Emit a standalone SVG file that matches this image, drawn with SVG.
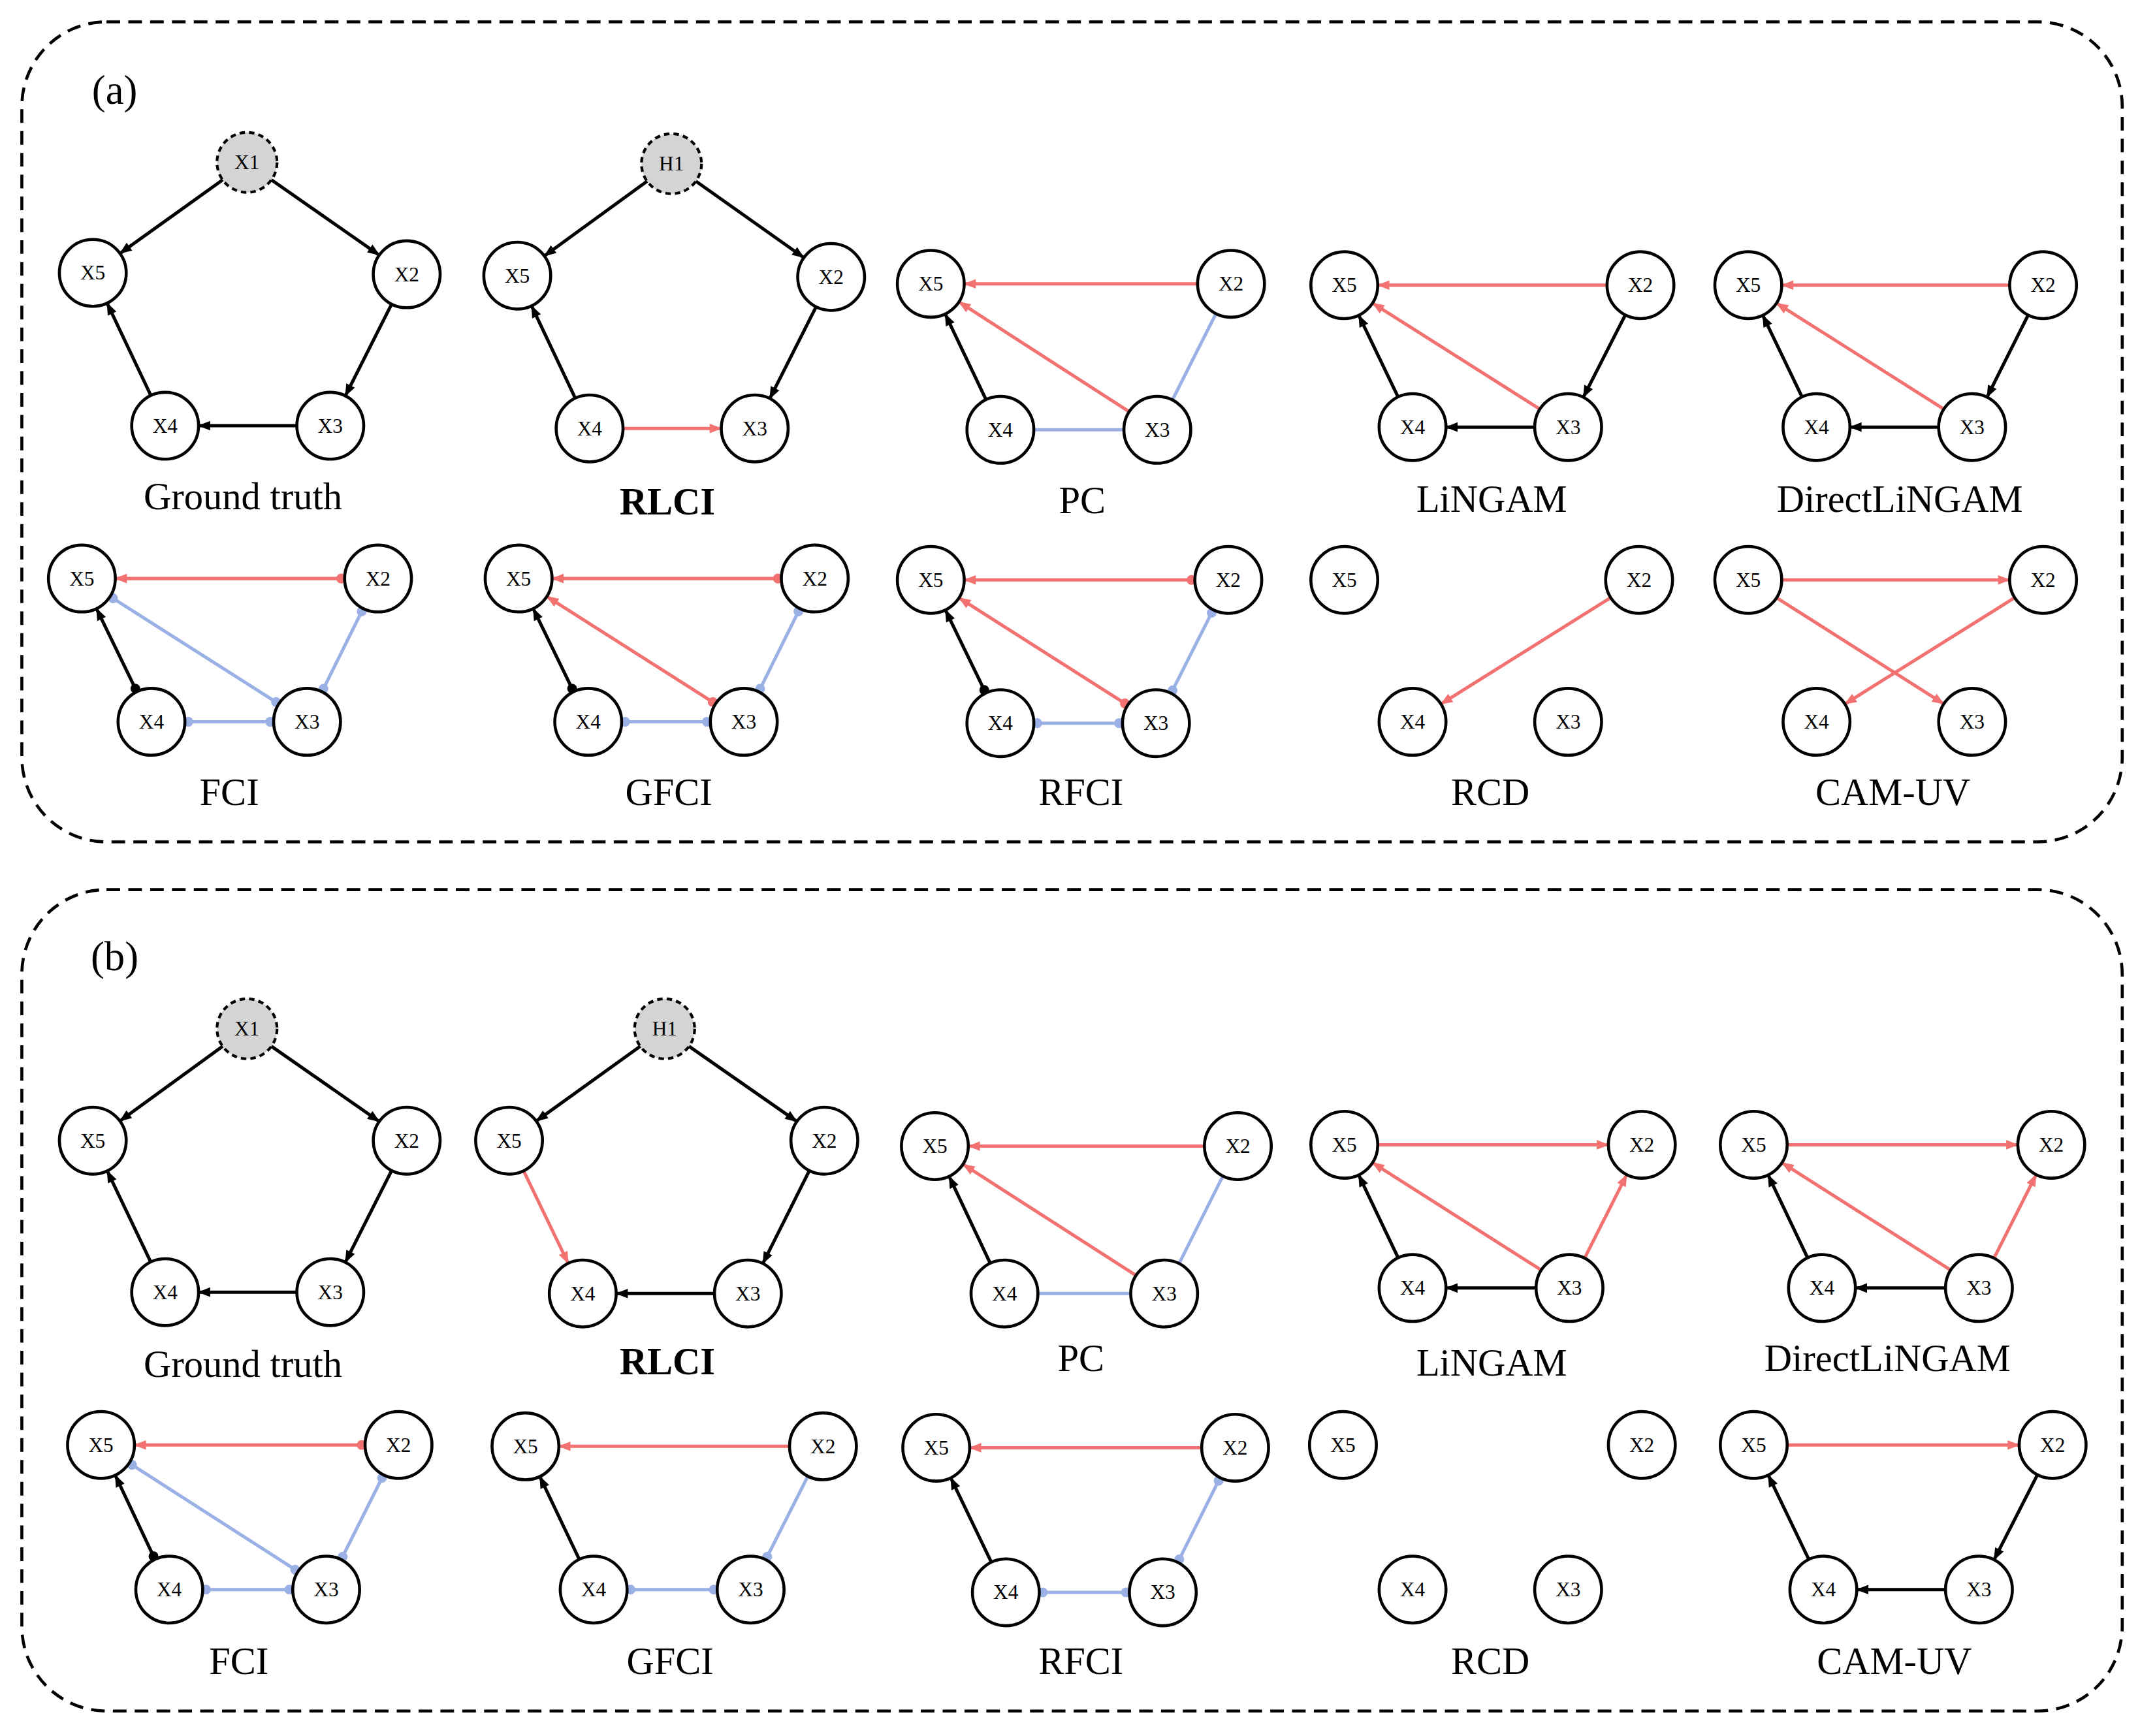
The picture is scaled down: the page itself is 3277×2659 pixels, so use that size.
<svg xmlns="http://www.w3.org/2000/svg" width="3277" height="2659" viewBox="0 0 3277 2659">
<style>
.n{fill:#fff;stroke:#000;stroke-width:2.2}
.h{fill:#d4d4d4;stroke:#000;stroke-width:2;stroke-dasharray:4,3}
.t{font-family:"Liberation Serif",serif;font-size:15px;text-anchor:middle;dominant-baseline:central;fill:#000}
.L{font-family:"Liberation Serif",serif;font-size:28px;text-anchor:middle;fill:#000}
.k{stroke:#000;stroke-width:2.4;fill:none}
.r{stroke:#f27171;stroke-width:2.4;fill:none}
.b{stroke:#9bb1e6;stroke-width:2.4;fill:none}
.box{fill:none;stroke:#000;stroke-width:2.2;stroke-dasharray:10,6}
</style>
<defs>
<marker id="ak" markerUnits="userSpaceOnUse" markerWidth="9" markerHeight="7" refX="33" refY="3.5" orient="auto" overflow="visible"><path d="M0,0L9,3.5L0,7z" fill="#000"/></marker>
<marker id="ar" markerUnits="userSpaceOnUse" markerWidth="9" markerHeight="7" refX="33" refY="3.5" orient="auto" overflow="visible"><path d="M0,0L9,3.5L0,7z" fill="#f27171"/></marker>
<marker id="sk" markerUnits="userSpaceOnUse" markerWidth="8" markerHeight="8" refX="-27" refY="0" orient="auto" overflow="visible"><circle r="3.6" fill="#000"/></marker>
<marker id="sr" markerUnits="userSpaceOnUse" markerWidth="8" markerHeight="8" refX="-27" refY="0" orient="auto" overflow="visible"><circle r="3.6" fill="#f27171"/></marker>
<marker id="sb" markerUnits="userSpaceOnUse" markerWidth="8" markerHeight="8" refX="-27" refY="0" orient="auto" overflow="visible"><circle r="3.6" fill="#9bb1e6"/></marker>
<marker id="eb" markerUnits="userSpaceOnUse" markerWidth="8" markerHeight="8" refX="27" refY="0" orient="auto" overflow="visible"><circle r="3.6" fill="#9bb1e6"/></marker>
</defs>
<g transform="scale(2.0899)">
<rect class="box" x="16" y="16" width="1539" height="601" rx="62"/>
<rect class="box" x="16" y="652" width="1539" height="602" rx="62"/>
<text x="84" y="76" font-family="Liberation Serif,serif" font-size="30" text-anchor="middle">(a)</text>
<text x="84" y="711" font-family="Liberation Serif,serif" font-size="30" text-anchor="middle">(b)</text>
<g id="connectors">
<path class="k" d="M165,130.5L68,200" marker-end="url(#ak)"/>
<path class="k" d="M197,130.5L298,201" marker-end="url(#ak)"/>
<path class="k" d="M298,201L242,312" marker-end="url(#ak)"/>
<path class="k" d="M242,312L121,312" marker-end="url(#ak)"/>
<path class="k" d="M121,312L68,200" marker-end="url(#ak)"/>
<path class="k" d="M476,131.5L379,202" marker-end="url(#ak)"/>
<path class="k" d="M508,131.5L609,203" marker-end="url(#ak)"/>
<path class="k" d="M609,203L553,314" marker-end="url(#ak)"/>
<path class="k" d="M432,314L379,202" marker-end="url(#ak)"/>
<path class="r" d="M432,314L553,314" marker-end="url(#ar)"/>
<path class="r" d="M902,208L682,208" marker-end="url(#ar)"/>
<path class="r" d="M848,315L682,208" marker-end="url(#ar)"/>
<path class="k" d="M733,315L682,208" marker-end="url(#ak)"/>
<path class="b" d="M733,315L848,315"/>
<path class="b" d="M848,315L902,208"/>
<path class="r" d="M1202,209L985,209" marker-end="url(#ar)"/>
<path class="r" d="M1149,313L985,209" marker-end="url(#ar)"/>
<path class="k" d="M1035,313L985,209" marker-end="url(#ak)"/>
<path class="k" d="M1149,313L1035,313" marker-end="url(#ak)"/>
<path class="k" d="M1202,209L1149,313" marker-end="url(#ak)"/>
<path class="r" d="M1497,209L1281,209" marker-end="url(#ar)"/>
<path class="r" d="M1445,313L1281,209" marker-end="url(#ar)"/>
<path class="k" d="M1331,313L1281,209" marker-end="url(#ak)"/>
<path class="k" d="M1445,313L1331,313" marker-end="url(#ak)"/>
<path class="k" d="M1497,209L1445,313" marker-end="url(#ak)"/>
<path class="r" d="M277,424L60,424" marker-start="url(#sr)" marker-end="url(#ar)"/>
<path class="b" d="M60,424L225,529" marker-start="url(#sb)" marker-end="url(#eb)"/>
<path class="k" d="M111,529L60,424" marker-start="url(#sk)" marker-end="url(#ak)"/>
<path class="b" d="M111,529L225,529" marker-start="url(#sb)" marker-end="url(#eb)"/>
<path class="b" d="M225,529L277,424" marker-start="url(#sb)" marker-end="url(#eb)"/>
<path class="r" d="M597,424L380,424" marker-start="url(#sr)" marker-end="url(#ar)"/>
<path class="r" d="M545,529L380,424" marker-start="url(#sr)" marker-end="url(#ar)"/>
<path class="k" d="M431,529L380,424" marker-start="url(#sk)" marker-end="url(#ak)"/>
<path class="b" d="M431,529L545,529" marker-start="url(#sb)" marker-end="url(#eb)"/>
<path class="b" d="M545,529L597,424" marker-start="url(#sb)" marker-end="url(#eb)"/>
<path class="r" d="M900,425L682,425" marker-start="url(#sr)" marker-end="url(#ar)"/>
<path class="r" d="M847,530L682,425" marker-start="url(#sr)" marker-end="url(#ar)"/>
<path class="k" d="M733,530L682,425" marker-start="url(#sk)" marker-end="url(#ak)"/>
<path class="b" d="M733,530L847,530" marker-start="url(#sb)" marker-end="url(#eb)"/>
<path class="b" d="M847,530L900,425" marker-start="url(#sb)" marker-end="url(#eb)"/>
<path class="r" d="M1201,425L1035,529" marker-end="url(#ar)"/>
<path class="r" d="M1281,425L1497,425" marker-end="url(#ar)"/>
<path class="r" d="M1281,425L1445,529" marker-end="url(#ar)"/>
<path class="r" d="M1497,425L1331,529" marker-end="url(#ar)"/>
<path class="k" d="M165,765.5L68,836" marker-end="url(#ak)"/>
<path class="k" d="M197,765.5L298,836" marker-end="url(#ak)"/>
<path class="k" d="M298,836L242,947" marker-end="url(#ak)"/>
<path class="k" d="M242,947L121,947" marker-end="url(#ak)"/>
<path class="k" d="M121,947L68,836" marker-end="url(#ak)"/>
<path class="k" d="M471,765.5L373,836" marker-end="url(#ak)"/>
<path class="k" d="M503,765.5L604,836" marker-end="url(#ak)"/>
<path class="k" d="M604,836L548,948" marker-end="url(#ak)"/>
<path class="k" d="M548,948L427,948" marker-end="url(#ak)"/>
<path class="r" d="M373,836L427,948" marker-end="url(#ar)"/>
<path class="r" d="M907,840L685,840" marker-end="url(#ar)"/>
<path class="r" d="M853,948L685,840" marker-end="url(#ar)"/>
<path class="k" d="M736,948L685,840" marker-end="url(#ak)"/>
<path class="b" d="M736,948L853,948"/>
<path class="b" d="M853,948L907,840"/>
<path class="r" d="M985,839L1203,839" marker-end="url(#ar)"/>
<path class="r" d="M1150,944L985,839" marker-end="url(#ar)"/>
<path class="k" d="M1035,944L985,839" marker-end="url(#ak)"/>
<path class="k" d="M1150,944L1035,944" marker-end="url(#ak)"/>
<path class="r" d="M1150,944L1203,839" marker-end="url(#ar)"/>
<path class="r" d="M1285,839L1503,839" marker-end="url(#ar)"/>
<path class="r" d="M1450,944L1285,839" marker-end="url(#ar)"/>
<path class="k" d="M1335,944L1285,839" marker-end="url(#ak)"/>
<path class="k" d="M1450,944L1335,944" marker-end="url(#ak)"/>
<path class="r" d="M1450,944L1503,839" marker-end="url(#ar)"/>
<path class="r" d="M292,1059L74,1059" marker-start="url(#sr)" marker-end="url(#ar)"/>
<path class="b" d="M74,1059L239,1165" marker-start="url(#sb)" marker-end="url(#eb)"/>
<path class="k" d="M124,1165L74,1059" marker-start="url(#sk)" marker-end="url(#ak)"/>
<path class="b" d="M124,1165L239,1165" marker-start="url(#sb)" marker-end="url(#eb)"/>
<path class="b" d="M239,1165L292,1059" marker-start="url(#sb)" marker-end="url(#eb)"/>
<path class="r" d="M603,1060L385,1060" marker-end="url(#ar)"/>
<path class="k" d="M435,1165L385,1060" marker-end="url(#ak)"/>
<path class="b" d="M435,1165L550,1165" marker-start="url(#sb)" marker-end="url(#eb)"/>
<path class="b" d="M550,1165L603,1060" marker-start="url(#sb)"/>
<path class="r" d="M905,1061L686,1061" marker-end="url(#ar)"/>
<path class="k" d="M737,1167L686,1061" marker-end="url(#ak)"/>
<path class="b" d="M737,1167L852,1167" marker-start="url(#sb)" marker-end="url(#eb)"/>
<path class="b" d="M852,1167L905,1061" marker-start="url(#sb)" marker-end="url(#eb)"/>
<path class="r" d="M1285,1059L1504,1059" marker-end="url(#ar)"/>
<path class="k" d="M1504,1059L1450,1165" marker-end="url(#ak)"/>
<path class="k" d="M1450,1165L1336,1165" marker-end="url(#ak)"/>
<path class="k" d="M1336,1165L1285,1059" marker-end="url(#ak)"/>
</g>
<g id="nodes">
<g id="a-gt-X1"><circle class="h" cx="181" cy="119" r="22"/><text class="t" x="181" y="119">X1</text></g>
<g id="a-gt-X5"><circle class="n" cx="68" cy="200" r="24.5"/><text class="t" x="68" y="200">X5</text></g>
<g id="a-gt-X2"><circle class="n" cx="298" cy="201" r="24.5"/><text class="t" x="298" y="201">X2</text></g>
<g id="a-gt-X4"><circle class="n" cx="121" cy="312" r="24.5"/><text class="t" x="121" y="312">X4</text></g>
<g id="a-gt-X3"><circle class="n" cx="242" cy="312" r="24.5"/><text class="t" x="242" y="312">X3</text></g>
<g id="a-rl-H1"><circle class="h" cx="492" cy="120" r="22"/><text class="t" x="492" y="120">H1</text></g>
<g id="a-rl-X5"><circle class="n" cx="379" cy="202" r="24.5"/><text class="t" x="379" y="202">X5</text></g>
<g id="a-rl-X2"><circle class="n" cx="609" cy="203" r="24.5"/><text class="t" x="609" y="203">X2</text></g>
<g id="a-rl-X4"><circle class="n" cx="432" cy="314" r="24.5"/><text class="t" x="432" y="314">X4</text></g>
<g id="a-rl-X3"><circle class="n" cx="553" cy="314" r="24.5"/><text class="t" x="553" y="314">X3</text></g>
<g id="a-pc-X5"><circle class="n" cx="682" cy="208" r="24.5"/><text class="t" x="682" y="208">X5</text></g>
<g id="a-pc-X2"><circle class="n" cx="902" cy="208" r="24.5"/><text class="t" x="902" y="208">X2</text></g>
<g id="a-pc-X4"><circle class="n" cx="733" cy="315" r="24.5"/><text class="t" x="733" y="315">X4</text></g>
<g id="a-pc-X3"><circle class="n" cx="848" cy="315" r="24.5"/><text class="t" x="848" y="315">X3</text></g>
<g id="a-li-X5"><circle class="n" cx="985" cy="209" r="24.5"/><text class="t" x="985" y="209">X5</text></g>
<g id="a-li-X2"><circle class="n" cx="1202" cy="209" r="24.5"/><text class="t" x="1202" y="209">X2</text></g>
<g id="a-li-X4"><circle class="n" cx="1035" cy="313" r="24.5"/><text class="t" x="1035" y="313">X4</text></g>
<g id="a-li-X3"><circle class="n" cx="1149" cy="313" r="24.5"/><text class="t" x="1149" y="313">X3</text></g>
<g id="a-dl-X5"><circle class="n" cx="1281" cy="209" r="24.5"/><text class="t" x="1281" y="209">X5</text></g>
<g id="a-dl-X2"><circle class="n" cx="1497" cy="209" r="24.5"/><text class="t" x="1497" y="209">X2</text></g>
<g id="a-dl-X4"><circle class="n" cx="1331" cy="313" r="24.5"/><text class="t" x="1331" y="313">X4</text></g>
<g id="a-dl-X3"><circle class="n" cx="1445" cy="313" r="24.5"/><text class="t" x="1445" y="313">X3</text></g>
<g id="a-fci-X5"><circle class="n" cx="60" cy="424" r="24.5"/><text class="t" x="60" y="424">X5</text></g>
<g id="a-fci-X2"><circle class="n" cx="277" cy="424" r="24.5"/><text class="t" x="277" y="424">X2</text></g>
<g id="a-fci-X4"><circle class="n" cx="111" cy="529" r="24.5"/><text class="t" x="111" y="529">X4</text></g>
<g id="a-fci-X3"><circle class="n" cx="225" cy="529" r="24.5"/><text class="t" x="225" y="529">X3</text></g>
<g id="a-gf-X5"><circle class="n" cx="380" cy="424" r="24.5"/><text class="t" x="380" y="424">X5</text></g>
<g id="a-gf-X2"><circle class="n" cx="597" cy="424" r="24.5"/><text class="t" x="597" y="424">X2</text></g>
<g id="a-gf-X4"><circle class="n" cx="431" cy="529" r="24.5"/><text class="t" x="431" y="529">X4</text></g>
<g id="a-gf-X3"><circle class="n" cx="545" cy="529" r="24.5"/><text class="t" x="545" y="529">X3</text></g>
<g id="a-rf-X5"><circle class="n" cx="682" cy="425" r="24.5"/><text class="t" x="682" y="425">X5</text></g>
<g id="a-rf-X2"><circle class="n" cx="900" cy="425" r="24.5"/><text class="t" x="900" y="425">X2</text></g>
<g id="a-rf-X4"><circle class="n" cx="733" cy="530" r="24.5"/><text class="t" x="733" y="530">X4</text></g>
<g id="a-rf-X3"><circle class="n" cx="847" cy="530" r="24.5"/><text class="t" x="847" y="530">X3</text></g>
<g id="a-rcd-X5"><circle class="n" cx="985" cy="425" r="24.5"/><text class="t" x="985" y="425">X5</text></g>
<g id="a-rcd-X2"><circle class="n" cx="1201" cy="425" r="24.5"/><text class="t" x="1201" y="425">X2</text></g>
<g id="a-rcd-X4"><circle class="n" cx="1035" cy="529" r="24.5"/><text class="t" x="1035" y="529">X4</text></g>
<g id="a-rcd-X3"><circle class="n" cx="1149" cy="529" r="24.5"/><text class="t" x="1149" y="529">X3</text></g>
<g id="a-cam-X5"><circle class="n" cx="1281" cy="425" r="24.5"/><text class="t" x="1281" y="425">X5</text></g>
<g id="a-cam-X2"><circle class="n" cx="1497" cy="425" r="24.5"/><text class="t" x="1497" y="425">X2</text></g>
<g id="a-cam-X4"><circle class="n" cx="1331" cy="529" r="24.5"/><text class="t" x="1331" y="529">X4</text></g>
<g id="a-cam-X3"><circle class="n" cx="1445" cy="529" r="24.5"/><text class="t" x="1445" y="529">X3</text></g>
<g id="b-gt-X1"><circle class="h" cx="181" cy="754" r="22"/><text class="t" x="181" y="754">X1</text></g>
<g id="b-gt-X5"><circle class="n" cx="68" cy="836" r="24.5"/><text class="t" x="68" y="836">X5</text></g>
<g id="b-gt-X2"><circle class="n" cx="298" cy="836" r="24.5"/><text class="t" x="298" y="836">X2</text></g>
<g id="b-gt-X4"><circle class="n" cx="121" cy="947" r="24.5"/><text class="t" x="121" y="947">X4</text></g>
<g id="b-gt-X3"><circle class="n" cx="242" cy="947" r="24.5"/><text class="t" x="242" y="947">X3</text></g>
<g id="b-rl-H1"><circle class="h" cx="487" cy="754" r="22"/><text class="t" x="487" y="754">H1</text></g>
<g id="b-rl-X5"><circle class="n" cx="373" cy="836" r="24.5"/><text class="t" x="373" y="836">X5</text></g>
<g id="b-rl-X2"><circle class="n" cx="604" cy="836" r="24.5"/><text class="t" x="604" y="836">X2</text></g>
<g id="b-rl-X4"><circle class="n" cx="427" cy="948" r="24.5"/><text class="t" x="427" y="948">X4</text></g>
<g id="b-rl-X3"><circle class="n" cx="548" cy="948" r="24.5"/><text class="t" x="548" y="948">X3</text></g>
<g id="b-pc-X5"><circle class="n" cx="685" cy="840" r="24.5"/><text class="t" x="685" y="840">X5</text></g>
<g id="b-pc-X2"><circle class="n" cx="907" cy="840" r="24.5"/><text class="t" x="907" y="840">X2</text></g>
<g id="b-pc-X4"><circle class="n" cx="736" cy="948" r="24.5"/><text class="t" x="736" y="948">X4</text></g>
<g id="b-pc-X3"><circle class="n" cx="853" cy="948" r="24.5"/><text class="t" x="853" y="948">X3</text></g>
<g id="b-li-X5"><circle class="n" cx="985" cy="839" r="24.5"/><text class="t" x="985" y="839">X5</text></g>
<g id="b-li-X2"><circle class="n" cx="1203" cy="839" r="24.5"/><text class="t" x="1203" y="839">X2</text></g>
<g id="b-li-X4"><circle class="n" cx="1035" cy="944" r="24.5"/><text class="t" x="1035" y="944">X4</text></g>
<g id="b-li-X3"><circle class="n" cx="1150" cy="944" r="24.5"/><text class="t" x="1150" y="944">X3</text></g>
<g id="b-dl-X5"><circle class="n" cx="1285" cy="839" r="24.5"/><text class="t" x="1285" y="839">X5</text></g>
<g id="b-dl-X2"><circle class="n" cx="1503" cy="839" r="24.5"/><text class="t" x="1503" y="839">X2</text></g>
<g id="b-dl-X4"><circle class="n" cx="1335" cy="944" r="24.5"/><text class="t" x="1335" y="944">X4</text></g>
<g id="b-dl-X3"><circle class="n" cx="1450" cy="944" r="24.5"/><text class="t" x="1450" y="944">X3</text></g>
<g id="b-fci-X5"><circle class="n" cx="74" cy="1059" r="24.5"/><text class="t" x="74" y="1059">X5</text></g>
<g id="b-fci-X2"><circle class="n" cx="292" cy="1059" r="24.5"/><text class="t" x="292" y="1059">X2</text></g>
<g id="b-fci-X4"><circle class="n" cx="124" cy="1165" r="24.5"/><text class="t" x="124" y="1165">X4</text></g>
<g id="b-fci-X3"><circle class="n" cx="239" cy="1165" r="24.5"/><text class="t" x="239" y="1165">X3</text></g>
<g id="b-gf-X5"><circle class="n" cx="385" cy="1060" r="24.5"/><text class="t" x="385" y="1060">X5</text></g>
<g id="b-gf-X2"><circle class="n" cx="603" cy="1060" r="24.5"/><text class="t" x="603" y="1060">X2</text></g>
<g id="b-gf-X4"><circle class="n" cx="435" cy="1165" r="24.5"/><text class="t" x="435" y="1165">X4</text></g>
<g id="b-gf-X3"><circle class="n" cx="550" cy="1165" r="24.5"/><text class="t" x="550" y="1165">X3</text></g>
<g id="b-rf-X5"><circle class="n" cx="686" cy="1061" r="24.5"/><text class="t" x="686" y="1061">X5</text></g>
<g id="b-rf-X2"><circle class="n" cx="905" cy="1061" r="24.5"/><text class="t" x="905" y="1061">X2</text></g>
<g id="b-rf-X4"><circle class="n" cx="737" cy="1167" r="24.5"/><text class="t" x="737" y="1167">X4</text></g>
<g id="b-rf-X3"><circle class="n" cx="852" cy="1167" r="24.5"/><text class="t" x="852" y="1167">X3</text></g>
<g id="b-rcd-X5"><circle class="n" cx="984" cy="1059" r="24.5"/><text class="t" x="984" y="1059">X5</text></g>
<g id="b-rcd-X2"><circle class="n" cx="1203" cy="1059" r="24.5"/><text class="t" x="1203" y="1059">X2</text></g>
<g id="b-rcd-X4"><circle class="n" cx="1035" cy="1165" r="24.5"/><text class="t" x="1035" y="1165">X4</text></g>
<g id="b-rcd-X3"><circle class="n" cx="1149" cy="1165" r="24.5"/><text class="t" x="1149" y="1165">X3</text></g>
<g id="b-cam-X5"><circle class="n" cx="1285" cy="1059" r="24.5"/><text class="t" x="1285" y="1059">X5</text></g>
<g id="b-cam-X2"><circle class="n" cx="1504" cy="1059" r="24.5"/><text class="t" x="1504" y="1059">X2</text></g>
<g id="b-cam-X4"><circle class="n" cx="1336" cy="1165" r="24.5"/><text class="t" x="1336" y="1165">X4</text></g>
<g id="b-cam-X3"><circle class="n" cx="1450" cy="1165" r="24.5"/><text class="t" x="1450" y="1165">X3</text></g>
</g>
<g id="labels">
<text class="L" x="178" y="373">Ground truth</text>
<text class="L" x="489" y="377" font-weight="bold">RLCI</text>
<text class="L" x="793" y="376">PC</text>
<text class="L" x="1093" y="375">LiNGAM</text>
<text class="L" x="1392" y="375">DirectLiNGAM</text>
<text class="L" x="168" y="590">FCI</text>
<text class="L" x="490" y="590">GFCI</text>
<text class="L" x="792" y="590">RFCI</text>
<text class="L" x="1092" y="590">RCD</text>
<text class="L" x="1387" y="590">CAM-UV</text>
<text class="L" x="178" y="1009">Ground truth</text>
<text class="L" x="489" y="1007" font-weight="bold">RLCI</text>
<text class="L" x="792" y="1005">PC</text>
<text class="L" x="1093" y="1008">LiNGAM</text>
<text class="L" x="1383" y="1005">DirectLiNGAM</text>
<text class="L" x="175" y="1227">FCI</text>
<text class="L" x="491" y="1227">GFCI</text>
<text class="L" x="792" y="1227">RFCI</text>
<text class="L" x="1092" y="1227">RCD</text>
<text class="L" x="1388" y="1227">CAM-UV</text>
</g>
</g>
</svg>
